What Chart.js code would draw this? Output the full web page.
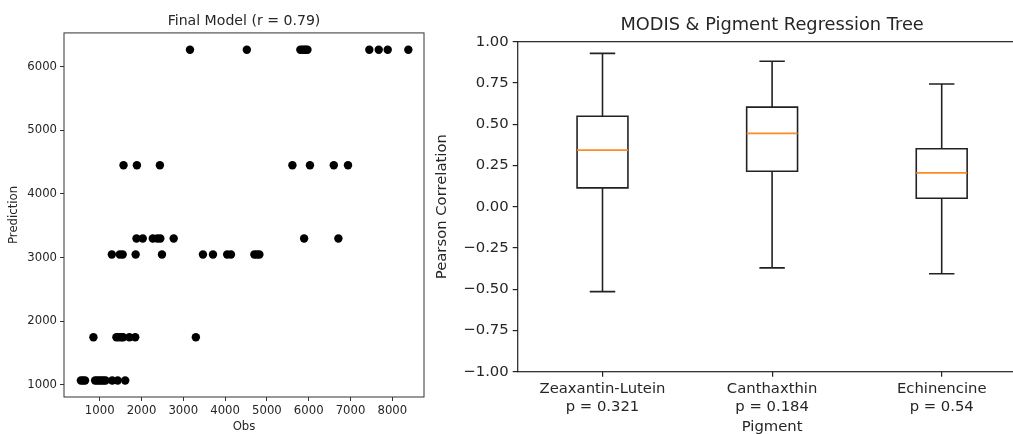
<!DOCTYPE html>
<html>
<head>
<meta charset="utf-8">
<title>MODIS pigment models</title>
<script src="https://cdn.jsdelivr.net/npm/chart.js@4.4.0/dist/chart.umd.min.js"></script>
<style>
    html, body {
        margin: 0;
        padding: 0;
        background: #fff;
        width: 1013px;
        height: 434px;
        overflow: hidden;
        position: relative;
    }
    canvas {
        position: absolute;
        top: 0;
        display: block;
    }
    #scatterChart { left: 0; }
    #boxChart { left: 424px; }
</style>
</head>
<body>
<canvas id="scatterChart" width="440" height="434"></canvas>
<canvas id="boxChart" width="616" height="445"></canvas>
<script>
'use strict';

// Final model: observed vs predicted (tree leaves give the flat rows)
const obsValues = [
    550, 600, 650, 890, 940, 990, 1040, 1090, 1140, 1300, 1430, 1610,
    850, 1400, 1460, 1520, 1560, 1710, 1850, 3300,
    1290, 1480, 1550, 1860, 2490, 3470, 3710, 4050, 4140, 4700, 4760, 4820,
    1880, 2030, 2270, 2380, 2450, 2770, 5890, 6710,
    1570, 1890, 2440, 5610, 6030, 6600, 6940,
    3160, 4520, 5800, 5850, 5890, 5930, 5970, 7450, 7675, 7890, 8383
];
const predValues = [
    1070, 1070, 1070, 1070, 1070, 1070, 1070, 1070, 1070, 1070, 1070, 1070,
    1750, 1750, 1750, 1750, 1750, 1750, 1750, 1750,
    3050, 3050, 3050, 3050, 3050, 3050, 3050, 3050, 3050, 3050, 3050, 3050,
    3300, 3300, 3300, 3300, 3300, 3300, 3300, 3300,
    4450, 4450, 4450, 4450, 4450, 4450, 4450,
    6265, 6265, 6265, 6265, 6265, 6265, 6265, 6265, 6265, 6265, 6265
];
const obsTicks = [1000, 2000, 3000, 4000, 5000, 6000, 7000, 8000];
const predTicks = [1000, 2000, 3000, 4000, 5000, 6000];

// Regression tree correlations per pigment
const pigments = ['Zeaxantin-Lutein', 'Canthaxthin', 'Echinencine'];
const pValues = ['0.321', '0.184', '0.54'];
const whiskerHigh = [0.929, 0.881, 0.743];
const q3 = [0.548, 0.603, 0.351];
const medians = [0.343, 0.444, 0.205];
const q1 = [0.114, 0.215, 0.051];
const whiskerLow = [-0.515, -0.371, -0.406];
const corrTicks = [-1, -0.75, -0.5, -0.25, 0, 0.25, 0.5, 0.75, 1];

const FONT = 'DejaVu Sans';
const TEXT = '#262626';

// outline of the plot area (spines)
const frame = {
    id: 'frame',
    afterDatasetsDraw(chart, args, opts) {
        let a = chart.chartArea, ctx = chart.ctx;
        ctx.save();
        ctx.strokeStyle = opts.color;
        ctx.lineWidth = opts.width;
        ctx.strokeRect(a.left, a.top, a.right - a.left, a.bottom - a.top);
        ctx.restore();
    }
};

let axisStyle = function (size, tick, color, width) {
    return {
        border: { display: false },
        grid: {
            display: true,
            drawOnChartArea: false,
            drawTicks: true,
            tickLength: tick,
            tickColor: color,
            tickWidth: width,
            color: color,
            lineWidth: width
        },
        ticks: {
            color: TEXT,
            padding: tick - 1,
            font: { family: FONT, size: size, lineHeight: 1.2 },
            maxRotation: 0,
            autoSkip: false
        }
    };
};

// ---------- scatter ----------
let sx = axisStyle(11.7, 4, '#333', 1);
let sy = axisStyle(11.7, 4, '#333', 1);

new Chart(document.getElementById('scatterChart'), {
    type: 'scatter',
    data: {
        datasets: [{
            data: obsValues.map((x, i) => ({ x: x, y: predValues[i] })),
            backgroundColor: '#000',
            borderWidth: 0,
            pointRadius: 4.2,
            pointHoverRadius: 4.2
        }]
    },
    options: {
        responsive: false,
        animation: false,
        events: [],
        layout: { padding: { left: 0, right: 16, top: 0, bottom: 0 } },
        plugins: {
            legend: { display: false },
            tooltip: { enabled: false },
            title: {
                display: true,
                text: 'Final Model (r = 0.79)',
                fullSize: false,
                color: TEXT,
                font: { family: FONT, size: 14.1, weight: 'normal', lineHeight: 1.2 },
                padding: { top: 12.5, bottom: 3.5 }
            },
            frame: { color: '#333', width: 1 }
        },
        scales: {
            x: Object.assign(sx, {
                type: 'linear',
                min: 146,
                max: 8758,
                afterBuildTicks: s => { s.ticks = obsTicks.map(v => ({ value: v })); },
                afterFit: s => { s.height = 37; },
                ticks: Object.assign(sx.ticks, { callback: v => String(v) }),
                title: {
                    display: true, text: 'Obs', color: TEXT,
                    font: { family: FONT, size: 11.7, lineHeight: 1.2 },
                    padding: { top: 0, bottom: 0.3 }
                }
            }),
            y: Object.assign(sy, {
                type: 'linear',
                min: 811,
                max: 6529,
                afterBuildTicks: s => { s.ticks = predTicks.map(v => ({ value: v })); },
                afterFit: s => { s.width = 64; },
                ticks: Object.assign(sy.ticks, { callback: v => String(v) }),
                title: {
                    display: true, text: 'Prediction', color: TEXT,
                    font: { family: FONT, size: 11.7, lineHeight: 1.2 },
                    padding: { top: 7, bottom: 0 }
                }
            })
        }
    },
    plugins: [frame]
});

// ---------- box plot ----------
const boxHalf = 0.15, capHalf = 0.075;
let boxLines = [], whiskerLines = [], medianLines = [];

pigments.forEach(function (name, i) {
    let x = i + 1;
    boxLines.push(
        { x: x - boxHalf, y: q1[i] }, { x: x + boxHalf, y: q1[i] },
        { x: x + boxHalf, y: q3[i] }, { x: x - boxHalf, y: q3[i] },
        { x: x - boxHalf, y: q1[i] }, { x: x, y: null }
    );
    whiskerLines.push(
        { x: x, y: q3[i] }, { x: x, y: whiskerHigh[i] }, { x: x, y: null },
        { x: x - capHalf, y: whiskerHigh[i] }, { x: x + capHalf, y: whiskerHigh[i] }, { x: x, y: null },
        { x: x, y: q1[i] }, { x: x, y: whiskerLow[i] }, { x: x, y: null },
        { x: x - capHalf, y: whiskerLow[i] }, { x: x + capHalf, y: whiskerLow[i] }, { x: x, y: null }
    );
    medianLines.push(
        { x: x - boxHalf, y: medians[i] }, { x: x + boxHalf, y: medians[i] }, { x: x, y: null }
    );
});

let segment = function (data, color, width, cap) {
    return {
        data: data,
        showLine: true,
        spanGaps: false,
        fill: false,
        tension: 0,
        borderColor: color,
        borderWidth: width,
        borderJoinStyle: 'miter',
        borderCapStyle: cap,
        pointRadius: 0,
        pointHoverRadius: 0
    };
};

let bx = axisStyle(14.8, 5, '#222', 1.2);
let by = axisStyle(14.8, 5, '#222', 1.2);

new Chart(document.getElementById('boxChart'), {
    type: 'scatter',
    data: {
        datasets: [
            segment(medianLines, '#ff8a25', 1.6, 'butt'),
            segment(boxLines, '#222', 1.6, 'square'),
            segment(whiskerLines, '#222', 1.6, 'butt')
        ]
    },
    options: {
        responsive: false,
        animation: false,
        events: [],
        layout: { padding: { left: 0, right: 13.5, top: 0, bottom: 0 } },
        plugins: {
            legend: { display: false },
            tooltip: { enabled: false },
            title: {
                display: true,
                text: 'MODIS & Pigment Regression Tree',
                fullSize: false,
                color: TEXT,
                font: { family: FONT, size: 17.8, weight: 'normal', lineHeight: 1.2 },
                padding: { top: 14.3, bottom: 6 }
            },
            frame: { color: '#222', width: 1.2 }
        },
        scales: {
            x: Object.assign(bx, {
                type: 'linear',
                min: 0.5,
                max: 3.5,
                afterBuildTicks: s => { s.ticks = pigments.map((p, i) => ({ value: i + 1 })); },
                afterFit: s => { s.height = 73.3; },
                ticks: Object.assign(bx.ticks, {
                    padding: 4,
                    callback: (v, i) => [pigments[i], 'p = ' + pValues[i]]
                }),
                title: {
                    display: true, text: 'Pigment', color: TEXT,
                    font: { family: FONT, size: 14.8, lineHeight: 1.2 },
                    padding: { top: 0, bottom: 8.8 }
                }
            }),
            y: Object.assign(by, {
                type: 'linear',
                min: -1,
                max: 1,
                afterBuildTicks: s => { s.ticks = corrTicks.map(v => ({ value: v })); },
                afterFit: s => { s.width = 93.7; },
                ticks: Object.assign(by.ticks, {
                    callback: v => v.toFixed(2).replace('-', '\u2212')
                }),
                title: {
                    display: true, text: 'Pearson Correlation', color: TEXT,
                    font: { family: FONT, size: 14.8, lineHeight: 1.2 },
                    padding: { top: 8.8, bottom: 0 }
                }
            })
        }
    },
    plugins: [frame]
});
</script>
</body>
</html>
